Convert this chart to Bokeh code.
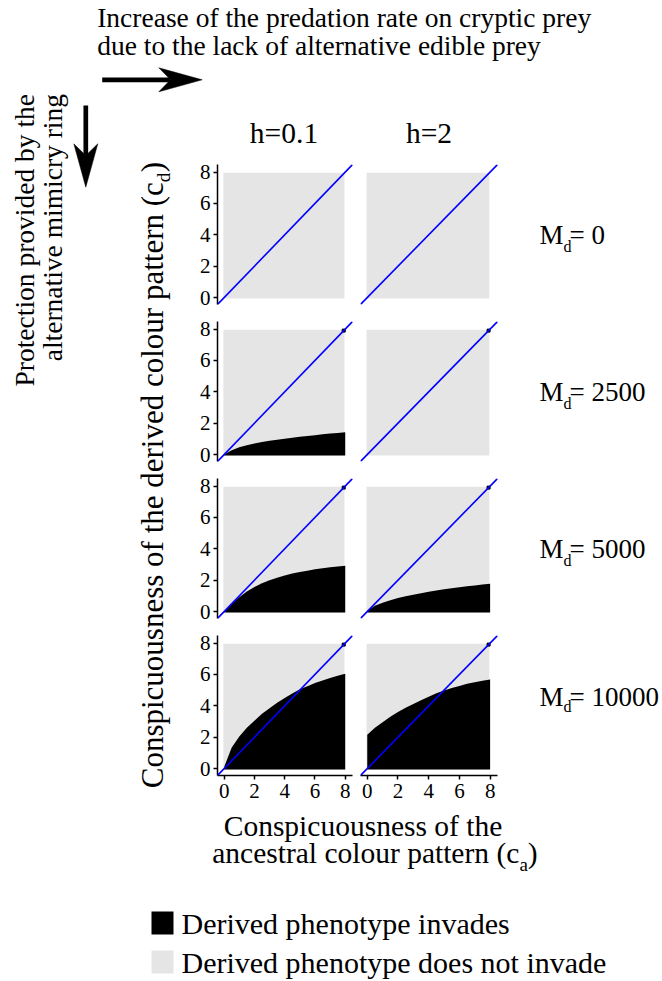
import math
from bokeh.plotting import figure
from bokeh.layouts import column, row
from bokeh.models import Range1d, Label, Slope, FixedTicker
from bokeh.embed import file_html
from bokeh.resources import INLINE

# ------------------------------------------------------------------ data
H_LABELS = ["h=0.1", "h=2"]
MD_LABELS = ["0", "2500", "5000", "10000"]
TICKS = [0, 2, 4, 6, 8]
# conspicuousness of the ancestral pattern (c_a) at which boundaries were read
CA = [0.0, 0.5, 1.0, 1.5, 2.0, 2.5, 3.0, 3.5, 4.0, 4.5, 5.0, 5.5, 6.0, 6.5, 7.0, 7.5, 8.0]
# upper limit of c_d for which the derived phenotype invades
CD_2500_H01 = [0.0, 0.27, 0.46, 0.60, 0.71, 0.80, 0.88, 0.95, 1.01, 1.07, 1.13, 1.19, 1.24, 1.29, 1.34, 1.38, 1.42]
CD_5000_H01 = [0.0, 0.48, 0.92, 1.28, 1.56, 1.80, 2.00, 2.16, 2.30, 2.42, 2.52, 2.61, 2.69, 2.76, 2.82, 2.87, 2.92]
CD_5000_H2 = [0.05, 0.38, 0.56, 0.72, 0.86, 0.98, 1.08, 1.17, 1.26, 1.34, 1.42, 1.49, 1.55, 1.61, 1.66, 1.72, 1.78]
CD_10000_H01 = [0.10, 1.35, 2.05, 2.60, 3.05, 3.50, 3.85, 4.20, 4.50, 4.78, 5.05, 5.25, 5.45, 5.62, 5.78, 5.92, 6.05]
CD_10000_H2 = [2.15, 2.60, 2.95, 3.30, 3.60, 3.88, 4.12, 4.35, 4.58, 4.80, 4.98, 5.13, 5.27, 5.40, 5.50, 5.60, 5.67]
INVASION = [[None, None],
            [CD_2500_H01, None],
            [CD_5000_H01, CD_5000_H2],
            [CD_10000_H01, CD_10000_H2]]
GRID_EXTENT = [-0.05, 7.95]          # simulated (c_a, c_d) grid
DIAG_CELL = [7.9, 7.9]               # invading cell on the diagonal
DIAG_CELL_SHOWN = [False, True, True, True]
LEGEND_LABELS = ["Derived phenotype invades", "Derived phenotype does not invade"]

# ------------------------------------------------------------------ style
BLACK = "#000000"
GREY = "#e5e5e5"
BLUE = "#0000ff"
FONT = "Liberation Serif"
RANGE = (-0.44, 8.48)
MID = 0.3375          # em-box middle above the baseline (Times metrics)

TNR = {' ': 250, '(': 333, ')': 333, '=': 564, '.': 250, 'a': 444, 'b': 500, 'c': 444,
       'd': 500, 'e': 444, 'f': 333, 'g': 500, 'h': 500, 'i': 278, 'k': 500, 'l': 278,
       'm': 778, 'n': 500, 'o': 500, 'p': 500, 'r': 333, 's': 389, 't': 278, 'u': 500,
       'v': 500, 'y': 500, 'C': 667, 'D': 722, 'I': 333, 'M': 889, 'P': 556}


def tw(s, size):
    return sum(TNR.get(ch, 500) for ch in s) * size / 1000.0


def canvas(w, h):
    p = figure(width=w, height=h, x_range=Range1d(0, w), y_range=Range1d(h, 0),
               toolbar_location=None, output_backend="svg",
               x_axis_location=None, y_axis_location=None, min_border=0,
               outline_line_color=None)
    p.xgrid.visible = False
    p.ygrid.visible = False
    return p


def label_h(p, x, base_y, text, size, align="left"):
    """horizontal text whose baseline lies at base_y"""
    p.add_layout(Label(x=x, y=base_y - MID * size, text=text, text_font=FONT,
                       text_font_size=f"{size}px", text_align=align,
                       text_baseline="middle", text_color=BLACK))


def label_v(p, base_x, y, text, size, align="left"):
    """text read bottom-to-top whose baseline lies at base_x"""
    p.add_layout(Label(x=base_x - MID * size, y=y, text=text, text_font=FONT,
                       text_font_size=f"{size}px", text_align=align,
                       text_baseline="middle", angle=math.pi / 2, text_color=BLACK))


def arrow(p, x0, y0, x1, y1, head_len=43.4, head_half=12.0, notch=11.7, width=4.7):
    dx, dy = x1 - x0, y1 - y0
    L = math.hypot(dx, dy)
    ux, uy = dx / L, dy / L
    nx, ny = -uy, ux
    bx, by = x1 - ux * head_len, y1 - uy * head_len
    mx, my = bx + ux * notch, by + uy * notch
    p.line([x0, mx], [y0, my], line_width=width, line_color=BLACK)
    p.patch([x1, bx + nx * head_half, mx, bx - nx * head_half],
            [y1, by + ny * head_half, my, by - ny * head_half],
            fill_color=BLACK, line_color=BLACK, line_width=0.5)


# ------------------------------------------------------------------ panels
def panel(r, c):
    is_left = c == 0
    is_bottom = r == 3
    p = figure(width=160 if is_left else 145, height=181 if is_bottom else 157,
               x_range=Range1d(*RANGE), y_range=Range1d(*RANGE),
               toolbar_location=None, output_backend="svg",
               x_axis_location="below" if is_bottom else None,
               y_axis_location="left" if is_left else None,
               min_border_left=19 if is_left else 4, min_border_right=4,
               min_border_top=8, min_border_bottom=33 if is_bottom else 9,
               outline_line_color=None)
    p.xgrid.visible = False
    p.ygrid.visible = False
    p.quad(left=[GRID_EXTENT[0]], right=[GRID_EXTENT[1]],
           bottom=[GRID_EXTENT[0]], top=[GRID_EXTENT[1]],
           fill_color=GREY, line_color=None)
    cd = INVASION[r][c]
    if cd is not None:
        p.varea(x=CA, y1=[GRID_EXTENT[0]] * len(CA), y2=cd, fill_color=BLACK)
    if DIAG_CELL_SHOWN[r]:
        p.scatter(x=[DIAG_CELL[0]], y=[DIAG_CELL[1]], marker="square", size=3,
                  fill_color=BLACK, line_color=BLACK)
    p.add_layout(Slope(gradient=1, y_intercept=0, line_color=BLUE, line_width=1.6))
    for ax in list(p.xaxis) + list(p.yaxis):
        ax.ticker = FixedTicker(ticks=TICKS)
        ax.axis_line_color = BLACK
        ax.axis_line_width = 1.5
        ax.major_tick_line_color = BLACK
        ax.major_tick_line_width = 1.5
        ax.major_tick_out = 4
        ax.major_tick_in = 0
        ax.minor_tick_line_color = None
        ax.major_label_text_font = FONT
        ax.major_label_text_font_size = "21px"
        ax.major_label_text_color = BLACK
    for ax in p.yaxis:
        ax.major_label_standoff = 3
    for ax in p.xaxis:
        ax.major_label_standoff = 4
    return p


# ------------------------------------------------------------------ top  (page origin 0,0)
top = canvas(662, 93)
label_h(top, 96.7, 26.7, "Increase of the predation rate on cryptic prey", 27.5)
label_h(top, 96.7, 54, "due to the lack of alternative edible prey", 27.5)
arrow(top, 101.7, 79.3, 201.7, 79.3)

# ------------------------------------------------------------------ left strip (page origin 0,93)
OY = 93
left = canvas(196, 807)
label_v(left, 33.3, 0.5, "Protection provided by the", 27.5, align="right")
label_v(left, 61.7, 0.5, "alternative mimicry ring", 27.5, align="right")
arrow(left, 85.3, 105 - OY, 85.3, 186.7 - OY)
yt_end = 181.7 - OY
label_v(left, 162, yt_end, "Conspicuousness of the derived colour pattern (c", 31, align="right")
label_v(left, 169, yt_end, "d", 19)
label_v(left, 162, yt_end - tw("d", 19) - 0.5, ")", 31)

# ------------------------------------------------------------------ header (page origin 196,93)
hdr = canvas(466, 63)
for i, t in enumerate(H_LABELS):
    cx = (283.5 if i == 0 else 428.5) - 196
    label_h(hdr, cx, 142 - OY, t, 29.5, align="center")

# ------------------------------------------------------------------ rows
rows = []
for r in range(4):
    h = 181 if r == 3 else 157
    m = canvas(161, h)         # page x origin 501, y origin = frame top - 8
    label_h(m, 539 - 501, 88, "M", 27)
    label_h(m, 563 - 501, 97, "d", 16)
    label_h(m, 569 - 501, 88, "= " + MD_LABELS[r], 27)
    rows.append(row(panel(r, 0), panel(r, 1), m, spacing=0))

# ------------------------------------------------------------------ x title (page origin 196,808)
xt = canvas(466, 92)
label_h(xt, 362.5 - 196, 835 - 808, "Conspicuousness of the", 29.5, align="center")
main2 = "ancestral colour pattern (c"
x2 = 211.7 - 196
label_h(xt, x2, 862 - 808, main2, 29.5)
label_h(xt, x2 + tw(main2, 29.5), 870 - 808, "a", 19)
label_h(xt, x2 + tw(main2, 29.5) + tw("a", 19), 862 - 808, ")", 29.5)

# ------------------------------------------------------------------ legend (page origin 0,900)
bottom = canvas(662, 80)
for i, (txt, col) in enumerate(zip(LEGEND_LABELS, [BLACK, GREY])):
    y_bot = (934 if i == 0 else 973) - 900
    bottom.quad(left=[151], right=[173], top=[y_bot - 23], bottom=[y_bot],
                fill_color=col, line_color=None)
    label_h(bottom, 181, y_bot - 1, txt, 30)

right = column(hdr, *rows, xt, spacing=0)
middle = row(left, right, spacing=0)
layout = column(top, middle, bottom, spacing=0)

open("out.html", "w").write(file_html(layout, INLINE))
